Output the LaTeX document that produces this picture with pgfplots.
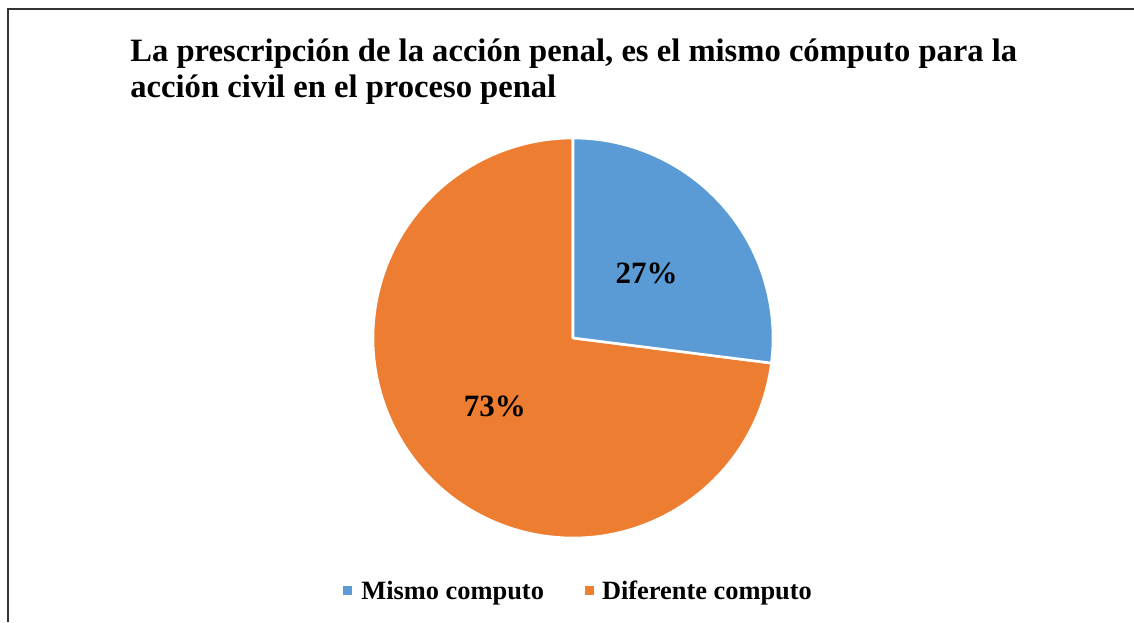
\documentclass[border=0pt]{standalone}
\usepackage{fontspec}
\setmainfont{Liberation Serif}
\usepackage{pgfplots}
\usepackage{pgfplotstable}
\pgfplotsset{compat=1.18}

\definecolor{pieblue}{HTML}{5B9BD5}
\definecolor{pieorange}{HTML}{ED7D31}

\pgfplotstableread{
label value
Mismo 27
Diferente 73
}\piedata

\begin{document}
\begin{tikzpicture}[x=1pt,y=1pt]
% page and frame (cropped on the right and bottom)
\path[use as bounding box] (0,0) rectangle (567,311);
\draw[black!80,line width=0.8pt] (4,0) -- (4,306.5) -- (567,306.5);

% title
\node[anchor=base west,font=\fontsize{16.3}{18}\selectfont\bfseries,inner sep=0]
  at (65,280) {La prescripción de la acción penal, es el mismo cómputo para la};
\node[anchor=base west,font=\fontsize{16.3}{18}\selectfont\bfseries,inner sep=0]
  at (65,262) {acción civil en el proceso penal};

\begin{axis}[
  at={(286.5,142)},anchor=center,
  scale only axis,width=200pt,height=200pt,
  xmin=-1,xmax=1,ymin=-1,ymax=1,
  hide axis,clip=false
]
\pgfplotstablegetelem{0}{value}\of\piedata \let\va\pgfplotsretval
\pgfplotstablegetelem{1}{value}\of\piedata \let\vb\pgfplotsretval
\pgfmathsetmacro\aA{90-3.6*\va}
\pgfmathsetmacro\aB{\aA-3.6*\vb}
\pgfmathsetmacro\mA{(90+\aA)/2}
\pgfmathsetmacro\mB{(\aA+\aB)/2}
\fill[pieorange,draw=white,line width=1.3pt,line join=round]
  (axis cs:0,0) -- (axis cs:{cos(\aA)},{sin(\aA)})
  arc[start angle=\aA,end angle=\aB,radius=100pt] -- cycle;
\fill[pieblue,draw=white,line width=1.3pt,line join=round]
  (axis cs:0,0) -- (axis cs:0,1)
  arc[start angle=90,end angle=\aA,radius=100pt] -- cycle;
\node[font=\fontsize{15.5}{18}\selectfont\bfseries]
  at (axis cs:{0.49*cos(\mA)},{0.49*sin(\mA)}) {\va\%};
\node[font=\fontsize{15.5}{18}\selectfont\bfseries]
  at (axis cs:{0.52*cos(\mB)},{0.52*sin(\mB)}) {\vb\%};
\end{axis}

% legend
\fill[pieblue] (171.6,13.6) rectangle (176.2,18.2);
\node[anchor=base west,font=\fontsize{13.2}{15}\selectfont\bfseries,inner sep=0]
  at (180.5,11.5) {Mismo computo};
\fill[pieorange] (292.4,13.6) rectangle (297,18.2);
\node[anchor=base west,font=\fontsize{13.2}{15}\selectfont\bfseries,inner sep=0]
  at (300.8,11.5) {Diferente computo};
\end{tikzpicture}
\end{document}
